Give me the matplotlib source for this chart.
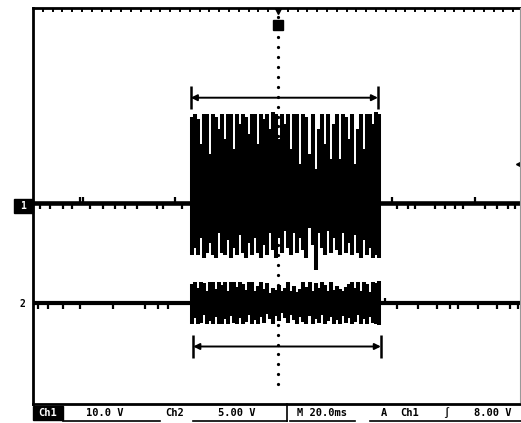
import matplotlib

matplotlib.use("Agg")
import matplotlib.pyplot as plt
import numpy as np
from matplotlib.patches import Rectangle

W, H = 521, 423

# scope settings
ch1_vdiv = 10.0  # V/div
ch2_vdiv = 5.0   # V/div
t_div = 20.0     # ms/div
trig_level = 8.0  # V on Ch1

# burst window (ms from left edge of screen)
burst_start = 64.8
burst_end = 141.2

# Ch1 burst envelope, volts, one column every ~1.2 ms
ch1_top = [17.5, 18, 17, 12, 18, 18, 10, 18, 17.5, 15, 18, 13, 18, 18, 11, 18,
           16, 18, 17.5, 14, 18, 18, 12, 18, 17, 18, 15, 18.5, 18, 13, 18, 16,
           18, 11, 18, 18, 8, 18, 17.5, 10, 18, 7, 15, 18, 12, 18, 9, 16, 18, 9,
           18, 17.5, 13, 18, 8, 15, 18, 11, 18, 18, 16, 18.5, 18]
ch1_bot = [-10.5, -9, -10.5, -7, -11, -10, -8, -10.5, -11, -6, -10, -10.5, -7.5,
           -11, -9, -10.5, -6.5, -10, -11, -8, -10.5, -7, -10, -11, -8.5, -10.5,
           -6, -9.5, -11, -7, -10, -5.5, -9, -10.5, -6, -10, -7, -9.5, -11, -5,
           -8.5, -13.5, -6, -9, -10.5, -5.5, -10, -7, -9.5, -10.5, -6, -10, -8,
           -10.5, -6.5, -10, -11, -7.5, -10.5, -9, -11, -10.5, -11]

# Ch2 burst envelope, volts
ch2_top = [2.0, 2.2, 1.6, 2.2, 2.1, 1.2, 2.2, 2.2, 1.5, 2.2, 1.9, 2.2, 1.3, 2.2,
           2.2, 1.7, 2.2, 2.0, 1.4, 2.2, 2.2, 1.2, 1.8, 2.2, 1.5, 2.1, 1.0, 1.6,
           1.4, 1.9, 1.2, 1.6, 2.2, 1.3, 1.8, 1.1, 1.5, 2.2, 1.7, 2.2, 1.2, 2.1,
           1.6, 2.2, 1.9, 1.3, 2.2, 1.4, 1.8, 1.5, 1.2, 1.7, 2.0, 2.2, 1.6, 2.2,
           1.3, 2.2, 2.0, 1.1, 2.2, 2.1, 2.3]
ch2_bot = [-2.1, -1.5, -2.1, -2.0, -1.2, -2.1, -1.8, -2.1, -1.4, -2.1, -2.1,
           -1.6, -2.1, -1.3, -2.0, -2.1, -1.5, -2.1, -1.9, -1.2, -2.1, -1.7,
           -2.1, -1.4, -2.0, -1.1, -1.6, -2.1, -1.3, -1.8, -1.0, -1.5, -2.0,
           -1.2, -1.7, -2.1, -1.4, -1.9, -2.1, -1.3, -2.1, -1.6, -2.0, -1.2,
           -2.1, -1.8, -1.4, -2.1, -1.7, -2.1, -1.3, -2.0, -1.5, -2.1, -1.9,
           -1.2, -2.1, -1.6, -2.1, -1.4, -2.0, -2.1, -2.2]

# noise spikes on the quiet baseline outside the burst (ms, V)
ch1_spike_t = [2.9, 6.9, 12.2, 15.9, 19.2, 20.4, 23.3, 28.6, 33.5, 37.6, 42.4,
               50.6, 53.1, 58.0, 60.8,
               146.5, 148.6, 153.1, 155.9, 164.1, 168.2, 172.2, 175.5, 180.4,
               184.5, 189.4, 193.9, 196.7]
ch1_spike_v = [-0.9, -0.9, -0.9, -0.8, 0.9, 0.9, -0.9, -0.8, -0.9, -0.8, -0.9,
               -0.9, -0.8, 0.9, -0.9,
               1.0, -0.9, -0.9, -0.8, -0.9, -0.8, -0.9, -0.9, 0.9, -0.8, -0.9,
               -0.8, -0.9]
ch2_spike_t = [2.0, 6.1, 12.2, 19.2, 32.7, 45.7, 51.0, 55.1,
               143.7, 148.6, 157.1, 164.9, 170.2, 173.5, 181.6, 189.4, 194.7,
               198.0]
ch2_spike_v = [-0.45, -0.45, -0.4, -0.45, -0.45, -0.4, -0.45, -0.45,
               0.4, -0.45, -0.45, -0.4, -0.45, -0.45, -0.45, -0.4, -0.45, -0.45]

# cursor (measurement) spans, ms
cur1 = (64.4, 140.8)
cur2 = (65.4, 142.0)

ch1_off = 0.05   # div
ch2_off = -1.97  # div

fig = plt.figure(figsize=(W / 100, H / 100), dpi=100)
ax = fig.add_axes([33 / W, (H - 404) / H, 490 / W, 396.5 / H])
ax.set_xlim(0, 10)
ax.set_ylim(-4, 4)
ax.set_xticks([])
ax.set_yticks([])
for side in ("left", "top", "bottom"):
    ax.spines[side].set_linewidth(2.0)
ax.spines["right"].set_visible(False)

# dotted center line and top border ticks
minor = np.arange(-3.6, 4.01, 0.2)
ax.plot(np.full(minor.shape, 5.0), minor, ls="none", marker="o", ms=1.3,
        color="black", zorder=1)
for xm in np.arange(0.2, 10, 0.2):
    ax.plot([xm, xm], [4, 3.93], color="black", lw=1.4, zorder=1)


def to_div(values, vdiv, off):
    return np.asarray(values, dtype=float) / vdiv + off


# baselines: flat trace plus the narrow spikes
b0, b1 = burst_start / t_div, burst_end / t_div
for off, lw in [(ch1_off, 3.3), (ch2_off, 3.0)]:
    ax.plot([0, b0], [off, off], color="black", lw=lw, solid_capstyle="butt")
    ax.plot([b1, 10], [off, off], color="black", lw=lw, solid_capstyle="butt")
ax.vlines(np.asarray(ch1_spike_t) / t_div, ch1_off,
          to_div(ch1_spike_v, ch1_vdiv, ch1_off) + np.sign(ch1_spike_v) * 0.03,
          color="black", lw=1.6)
ax.vlines(np.asarray(ch2_spike_t) / t_div, ch2_off,
          to_div(ch2_spike_v, ch2_vdiv, ch2_off) + np.sign(ch2_spike_v) * 0.03,
          color="black", lw=1.6)

# bursts as vertical columns
t1 = np.linspace(burst_start, burst_end, len(ch1_top)) / t_div
ax.vlines(t1, to_div(ch1_bot, ch1_vdiv, ch1_off), to_div(ch1_top, ch1_vdiv, ch1_off),
          color="black", lw=2.9)
t2 = np.linspace(burst_start, burst_end, len(ch2_top)) / t_div
ax.vlines(t2, to_div(ch2_bot, ch2_vdiv, ch2_off), to_div(ch2_top, ch2_vdiv, ch2_off),
          color="black", lw=2.9)


def cursor(span, y):
    a, b = span[0] / t_div, span[1] / t_div
    ax.annotate("", xy=(a, y), xytext=(b, y),
                arrowprops=dict(arrowstyle="<|-|>", color="black", lw=1.4,
                                mutation_scale=9, shrinkA=0, shrinkB=0))
    ax.vlines([a, b], y - 0.23, y + 0.23, color="black", lw=1.8)


cursor(cur1, 2.18)
cursor(cur2, -2.84)

# trigger position marker and trigger level marker
ax.plot([5.0], [3.65], marker="s", ms=6.5, color="black", zorder=5)
ax.plot([5.0], [3.93], marker="v", ms=5, color="black", zorder=5)
ax.plot([9.93], [trig_level / ch1_vdiv + ch1_off], marker="<", ms=5.5,
        color="black", clip_on=False)

# channel ground markers
fig.patches.append(Rectangle((14 / W, 1 - 213 / H), 19 / W, 14 / H,
                             transform=fig.transFigure, color="black"))
fig.text(23 / W, 1 - 206 / H, "1", color="white", fontsize=7, weight="bold",
         ha="center", va="center", family="DejaVu Sans Mono")
fig.text(22 / W, 1 - 304 / H, "2", color="black", fontsize=7, weight="bold",
         ha="center", va="center", family="DejaVu Sans Mono")

# thin right edge
fig.add_artist(plt.Line2D([519.5 / W, 519.5 / W], [1 - 402 / H, 1 - 8 / H],
                          color="#999999", lw=0.8))

# readout line
fs = 7.5
mono = dict(fontsize=fs, weight="bold", family="DejaVu Sans Mono", va="center")
ybar = 1 - 413 / H
fig.patches.append(Rectangle((33 / W, 1 - 420 / H), 30 / W, 14 / H,
                             transform=fig.transFigure, color="black"))
fig.text(48 / W, ybar, "Ch1", color="white", ha="center", **mono)
fig.text(105 / W, ybar, "10.0 V", ha="center", **mono)
fig.text(175 / W, ybar, "Ch2", ha="center", **mono)
fig.text(237 / W, ybar, "5.00 V", ha="center", **mono)
fig.text(322 / W, ybar, "M 20.0ms", ha="center", **mono)
fig.text(384 / W, ybar, "A", ha="center", **mono)
fig.text(410 / W, ybar, "Ch1", ha="center", **mono)
fig.text(446 / W, ybar, "\u222b", ha="center", **mono)
fig.text(474 / W, ybar, "8.00 V", ha="left", **mono)
for x0, x1 in [(63, 160), (193, 287), (290, 355), (370, 521)]:
    fig.add_artist(plt.Line2D([x0 / W, x1 / W], [1 - 421 / H, 1 - 421 / H],
                              color="black", lw=1.2))
fig.add_artist(plt.Line2D([287 / W, 287 / W], [1 - 421 / H, 1 - 404 / H],
                          color="black", lw=1.2))

fig.savefig("out.png", dpi=100, facecolor="white")
plt.close(fig)
